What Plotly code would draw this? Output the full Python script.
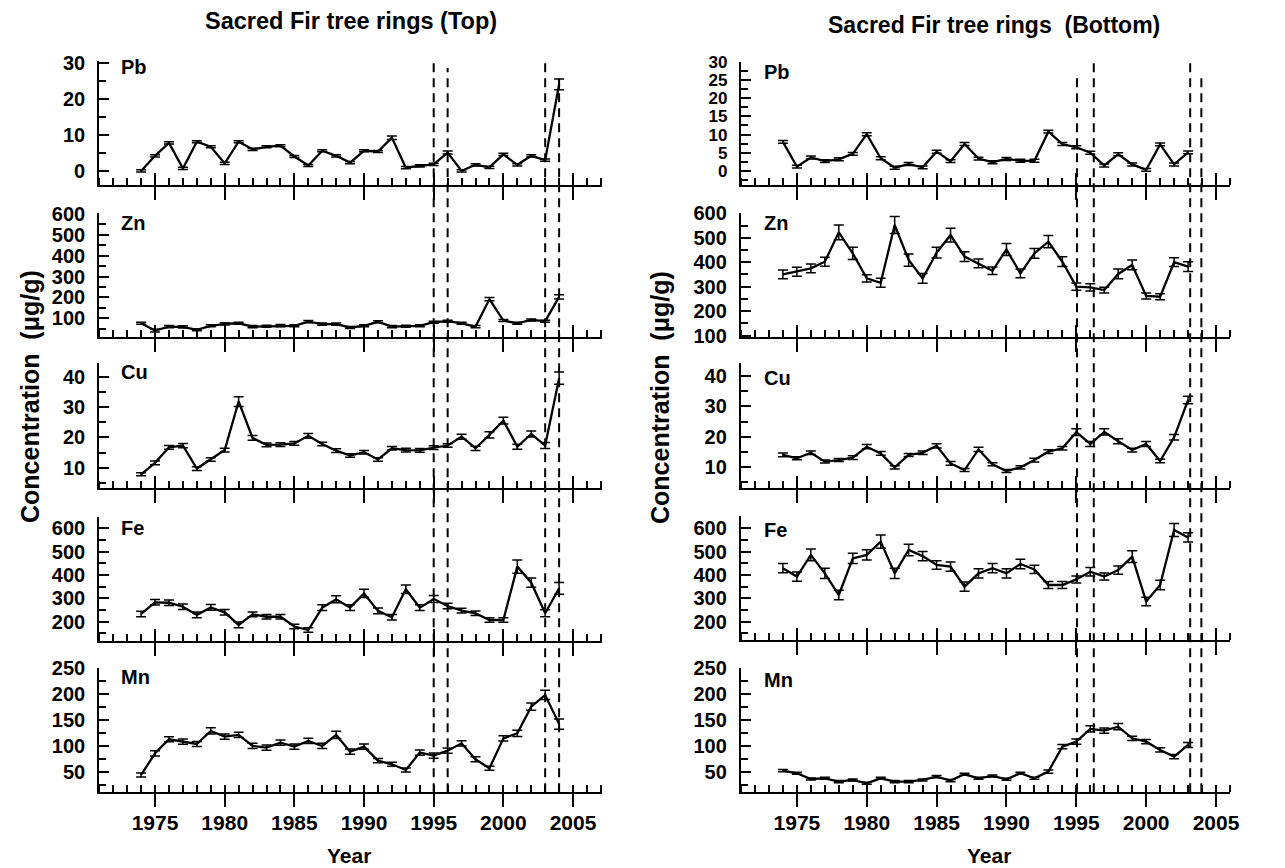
import plotly.graph_objects as go

# ---------------- data ----------------
years_top = list(range(1974, 2005))      # left column (Top)
years_bot = list(range(1974, 2004))      # right column (Bottom)

top_pb = [0, 4.2, 7.8, 0.7, 8.1, 6.7, 2.1, 8.1, 6.0, 6.7, 7.0, 4.0, 1.5, 5.6, 4.2, 2.3,
          5.6, 5.4, 9.2, 0.9, 1.4, 1.8, 5.1, 0, 1.7, 1.0, 4.6, 1.7, 4.2, 3.0, 24.0]
top_pb_err = [0.3] * 18 + [0.5] + [0.3] * 3 + [0.4] + [0.3] * 7 + [1.5]

top_zn = [77, 42, 61, 60, 46, 65, 74, 77, 61, 63, 66, 65, 85, 73, 73, 57, 65, 84, 61, 63,
          65, 82, 87, 77, 61, 192, 90, 77, 93, 87, 203]
top_zn_err = [5, 6, 5, 5, 5, 5, 5, 5, 5, 5, 5, 5, 5, 5, 5, 5, 5, 5, 5, 5,
              5, 5, 5, 5, 5, 8, 5, 5, 5, 5, 10]

top_cu = [7.8, 11.6, 16.7, 17.3, 9.7, 12.7, 15.8, 31.8, 19.8, 17.5, 17.6, 18.0, 20.5, 17.8,
          15.6, 14.0, 15.1, 12.7, 16.4, 15.8, 15.7, 16.6, 17.3, 20.2, 16.4, 20.8, 25.5,
          16.9, 21.1, 17.3, 39.5]
top_cu_err = [0.5, 0.6, 0.6, 0.7, 0.6, 0.6, 0.6, 1.6, 0.8, 0.6, 0.6, 0.6, 0.8, 0.6,
              0.6, 0.6, 0.6, 0.6, 0.6, 0.6, 0.6, 0.6, 0.6, 0.8, 0.7, 1.0, 1.1,
              0.8, 1.0, 1.0, 2.0]

top_fe = [233, 283, 281, 264, 229, 261, 240, 186, 231, 221, 221, 179, 164, 260, 296, 260,
          321, 246, 219, 339, 260, 297, 267, 247, 236, 207, 207, 436, 367, 236, 343]
top_fe_err = [12, 12, 12, 12, 12, 12, 12, 12, 10, 10, 10, 10, 10, 12, 15, 12,
              18, 12, 12, 18, 12, 15, 12, 10, 10, 10, 10, 28, 20, 15, 25]

top_mn = [43.5, 85.5, 112.6, 108, 103.5, 128.7, 117.7, 121, 99.7, 96.5, 106, 98.4, 109.4,
          99.7, 121, 88.7, 98.4, 71.3, 64.2, 53.2, 86.8, 81, 90.6, 104.8, 73.9, 56.5,
          114.5, 124.2, 175.8, 198.4, 142]
top_mn_err = [4, 5, 5, 5, 5, 6, 5, 5, 5, 5, 5, 5, 5,
              5, 7, 5, 5, 4, 4, 4, 5, 5, 5, 5, 5, 4,
              5, 6, 7, 9, 10]

bot_pb = [8.0, 1.2, 3.7, 2.7, 3.2, 4.7, 10.1, 3.5, 0.9, 1.9, 1.0, 5.3, 2.7, 7.4, 3.4,
          2.4, 3.3, 2.8, 2.8, 10.8, 7.4, 6.5, 5.0, 1.5, 4.6, 1.8, 0.3, 7.3, 1.8, 5.1]
bot_pb_err = [0.4] * 30

bot_zn = [350, 361, 375, 402, 522, 436, 334, 316, 552, 409, 334, 439, 511, 423, 395, 365,
          452, 354, 436, 484, 402, 300, 297, 286, 352, 389, 262, 259, 400, 382]
bot_zn_err = [18, 18, 18, 18, 30, 25, 15, 18, 35, 25, 20, 22, 28, 20, 18, 15,
              25, 18, 20, 25, 20, 15, 15, 12, 20, 20, 12, 12, 18, 20]

bot_cu = [14.0, 12.9, 14.7, 11.8, 12.3, 13.1, 16.7, 14.5, 9.9, 14.0, 14.7, 17.0, 11.2, 9.0,
          15.8, 10.9, 8.7, 9.9, 12.3, 15.1, 16.2, 21.5, 17.6, 21.6, 18.5, 15.6, 17.6, 12.0,
          19.8, 32.1]
bot_cu_err = [0.6, 0.5, 0.6, 0.5, 0.5, 0.6, 0.7, 0.6, 0.5, 0.5, 0.6, 0.7, 0.6, 0.5,
              0.7, 0.5, 0.5, 0.5, 0.6, 0.6, 0.6, 1.1, 0.8, 1.0, 0.8, 0.6, 0.8, 0.6,
              0.9, 1.2]

bot_fe = [429, 393, 486, 407, 314, 471, 486, 543, 407, 507, 481, 443, 436, 350, 407, 429,
          407, 447, 424, 357, 357, 381, 414, 393, 421, 479, 286, 357, 593, 561]
bot_fe_err = [20, 20, 25, 22, 20, 22, 22, 28, 22, 25, 20, 18, 20, 20, 20, 20,
              20, 20, 18, 15, 15, 15, 18, 15, 18, 25, 18, 20, 28, 20]

bot_mn = [52, 46.8, 35.8, 37.1, 30.6, 33.9, 27.4, 37.1, 30.6, 30.6, 33.9, 40.3, 32.6, 44.8,
          37.1, 41.6, 35.2, 46.8, 37.1, 50, 98.4, 108, 132.6, 129.4, 137, 114.5, 108, 92,
          79, 101.6]
bot_mn_err = [2, 2, 2, 2, 2, 2, 2, 2, 2, 2, 2, 2, 2, 2,
              2, 2, 2, 2, 2, 3, 4, 5, 6, 5, 6, 4, 4, 4,
              4, 5]

elements = ["Pb", "Zn", "Cu", "Fe", "Mn"]
titles = ["Sacred Fir tree rings (Top)", "Sacred Fir tree rings  (Bottom)"]
y_title = "Concentration  (μg/g)"
x_title = "Year"
top_event_years = [1995, 1996, 2003, 2004]
bot_event_years = [1995.05, 1996.25, 2003.15, 2003.95]

# ---------------- layout geometry (pixels) ----------------
W, H = 1285, 868
FONT = "Liberation Sans, Arial, sans-serif"

def py(p):
    return 1 - p / H

def px(p):
    return p / W

columns = [
    dict(years=years_top,
         series=[(top_pb, top_pb_err), (top_zn, top_zn_err), (top_cu, top_cu_err),
                 (top_fe, top_fe_err), (top_mn, top_mn_err)],
         xdom=(99.3, 602.3), xrange=(1971.0, 2007.1),
         rows=[(61, 185), (213, 336.7), (363.3, 488.3), (516.7, 641), (668.3, 792.3)],
         yranges=[(-3.9, 30.5), (13, 603), (3.2, 44.4), (117, 650), (10, 250)],
         dticks=[10, 100, 10, 100, 50], minors=[5, 50, 5, 50, 25],
         yfont=[20, 20, 20, 20, 20],
         events=top_event_years, event_tops=[63, 68, 63, 77],
         label_x=119, label_y=[67, 223, 372, 528, 677],
         title=titles[0], title_xy=(351, 21), title_size=23.5,
         ytitle_x=30, xtitle_x=349),
    dict(years=years_bot,
         series=[(bot_pb, bot_pb_err), (bot_zn, bot_zn_err), (bot_cu, bot_cu_err),
                 (bot_fe, bot_fe_err), (bot_mn, bot_mn_err)],
         xdom=(741, 1230), xrange=(1971.0, 2006.0),
         rows=[(61.7, 185), (213.3, 337.3), (363.3, 488.3), (516, 640), (668.3, 792.3)],
         yranges=[(-3.85, 30), (93, 600), (3.0, 44.2), (121, 653), (10, 250)],
         dticks=[5, 100, 10, 100, 50], minors=[2.5, 50, 5, 50, 25],
         yfont=[17, 20, 20, 20, 20],
         events=bot_event_years, event_tops=[77, 63, 62, 77],
         label_x=762, label_y=[72, 223, 378, 530, 680],
         title=titles[1], title_xy=(994, 25), title_size=23,
         ytitle_x=660, xtitle_x=989),
]

fig = go.Figure()
layout = dict(width=W, height=H, margin=dict(l=0, r=0, t=0, b=0, pad=0, autoexpand=False),
              paper_bgcolor="white", plot_bgcolor="white", showlegend=False,
              font=dict(family=FONT, color="black", size=20, weight="bold"))
annotations = []
shapes = []

idx = 0
for ci, col in enumerate(columns):
    for ri in range(5):
        idx += 1
        xa = "x" if idx == 1 else f"x{idx}"
        ya = "y" if idx == 1 else f"y{idx}"
        vals, errs = col["series"][ri]
        fig.add_trace(go.Scatter(
            x=col["years"], y=vals, mode="lines", xaxis=xa, yaxis=ya,
            line=dict(color="black", width=2.3),
            error_y=dict(type="data", array=errs, visible=True, color="black",
                         thickness=1.5, width=5),
            hoverinfo="x+y"))
        top, bot = col["rows"][ri]
        xdom = [px(col["xdom"][0]), px(col["xdom"][1])]
        ydom = [py(bot), py(top)]
        layout[f"xaxis{idx}"] = dict(
            domain=xdom, range=list(col["xrange"]), anchor=ya,
            showline=True, linecolor="black", linewidth=2.3, mirror=False,
            showgrid=False, zeroline=False, automargin=False,
            tickmode="linear", tick0=1975, dtick=5,
            ticks="outside", ticklen=13, tickwidth=2, tickcolor="black",
            minor=dict(ticks="inside", ticklen=7, tickwidth=2, dtick=1, tick0=1971,
                       tickcolor="black", showgrid=False),
            showticklabels=(ri == 4), ticklabelstandoff=-3,
            tickfont=dict(family=FONT, size=21, color="black", weight="bold"),
            fixedrange=True)
        layout[f"yaxis{idx}"] = dict(
            domain=ydom, range=list(col["yranges"][ri]), anchor=xa,
            showline=True, linecolor="black", linewidth=2.3,
            showgrid=False, zeroline=False, automargin=False,
            tickmode="linear", tick0=0, dtick=col["dticks"][ri],
            ticks="inside", ticklen=10, tickwidth=2, tickcolor="black",
            minor=dict(ticks="inside", ticklen=7, tickwidth=2, dtick=col["minors"][ri],
                       tick0=0, tickcolor="black", showgrid=False),
            ticklabelstandoff=8,
            tickfont=dict(family=FONT, size=col["yfont"][ri], color="black", weight="bold"),
            fixedrange=True)
        if ri < 4:
            # overlay axis giving the upward half of the major x ticks
            oi = idx + 10
            layout[f"xaxis{oi}"] = dict(
                overlaying=xa, anchor=ya, range=list(col["xrange"]), side="bottom",
                showline=False, showgrid=False, zeroline=False, automargin=False,
                tickmode="linear", tick0=1975, dtick=5,
                ticks="inside", ticklen=12, tickwidth=2, tickcolor="black",
                showticklabels=False, fixedrange=True)
            fig.add_trace(go.Scatter(x=[None], y=[None], xaxis=f"x{oi}", yaxis=ya,
                                     showlegend=False, hoverinfo="skip", mode="lines"))
        annotations.append(dict(text=elements[ri], x=px(col["label_x"]),
                                y=py(col["label_y"][ri]), xref="paper", yref="paper",
                                xanchor="left", yanchor="middle", showarrow=False,
                                font=dict(family=FONT, size=20, color="black", weight="bold")))
    # dashed event lines spanning all panels of the column
    base_x = "x" if ci == 0 else "x6"
    for yr, ytop in zip(col["events"], col["event_tops"]):
        shapes.append(dict(type="line", xref=base_x, yref="paper", x0=yr, x1=yr,
                           y0=py(792.3), y1=py(ytop),
                           line=dict(color="black", width=2, dash="9px,6px")))
    annotations.append(dict(text=col["title"], x=px(col["title_xy"][0]), y=py(col["title_xy"][1]),
                            xref="paper", yref="paper", xanchor="center", yanchor="middle",
                            showarrow=False,
                            font=dict(family=FONT, size=col["title_size"], color="black",
                                      weight="bold")))
    annotations.append(dict(text=y_title, x=px(col["ytitle_x"]), y=py(397),
                            xref="paper", yref="paper", xanchor="center", yanchor="middle",
                            textangle=-90, showarrow=False,
                            font=dict(family=FONT, size=25, color="black", weight="bold")))
    annotations.append(dict(text=x_title, x=px(col["xtitle_x"]), y=py(855),
                            xref="paper", yref="paper", xanchor="center", yanchor="middle",
                            showarrow=False,
                            font=dict(family=FONT, size=21, color="black", weight="bold")))

layout["annotations"] = annotations
layout["shapes"] = shapes
fig.update_layout(**layout)
fig.write_html("out.html", config={"displayModeBar": False},
               post_script="document.body.style.margin='0';document.body.style.overflow='hidden';")
